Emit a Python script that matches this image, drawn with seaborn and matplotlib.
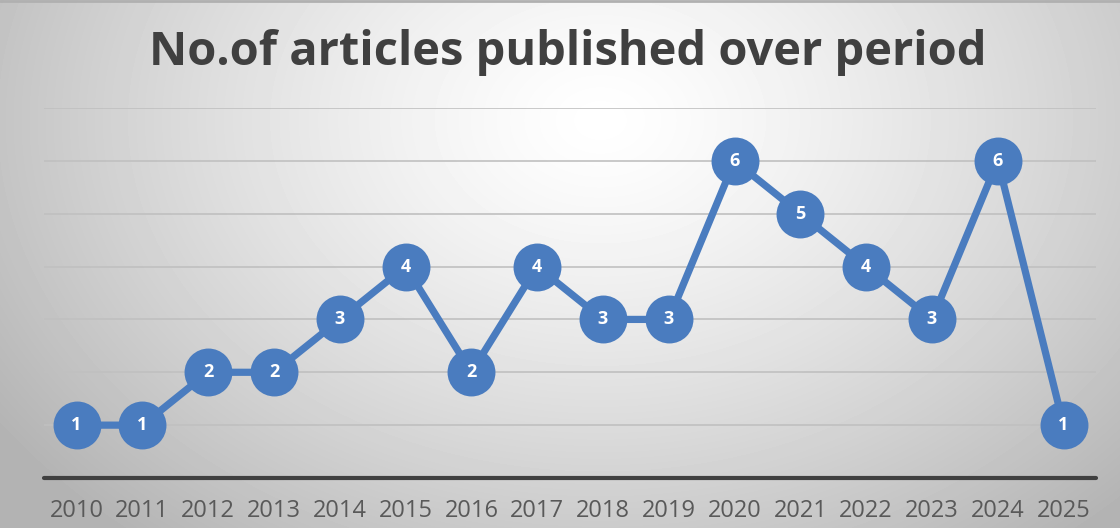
import numpy as np
import matplotlib
matplotlib.use("Agg")
import matplotlib.pyplot as plt
import seaborn as sns
import pandas as pd

years = ["2010", "2011", "2012", "2013", "2014", "2015", "2016", "2017",
         "2018", "2019", "2020", "2021", "2022", "2023", "2024", "2025"]
articles = [1, 1, 2, 2, 3, 4, 2, 4, 3, 3, 6, 5, 4, 3, 6, 1]
title = "No.of articles published over period"

sns.set_theme(style="white")
plt.rcParams['font.family'] = ['Open Sans', 'DejaVu Sans']

fig = plt.figure(figsize=(11.2, 5.28), dpi=100)

# background radial gradient
bg = fig.add_axes([0, 0, 1, 1], zorder=0)
yy, xx = np.mgrid[0:528, 0:1120]
d = np.sqrt(((xx - 600) / 700.0) ** 2 + ((yy - 120) / 520.0) ** 2)
val = np.clip(1.0 - 0.28 * d ** 1.3, 0.70, 1.0)
bg.imshow(val, cmap="gray", vmin=0, vmax=1, aspect="auto", interpolation="bilinear")
bg.axis("off")
bg.axhline(0, color="#b0b0b0", lw=2)

ax = fig.add_axes([0.039, 0.0947, 0.94, 0.7008], zorder=1)
ax.patch.set_alpha(0)

df = pd.DataFrame({"pos": np.arange(len(years)), "year": years, "n": articles})
color = "#4a7cbf"
sns.lineplot(data=df, x="pos", y="n", ax=ax, color=color, lw=5.2, marker="o",
             markersize=34.5, markeredgewidth=0, zorder=3)
for p, v in zip(df["pos"], df["n"]):
    ax.text(p, v, str(v), ha="center", va="center", color="white",
            fontsize=13, fontweight="bold", zorder=4)

ax.set_xlim(-0.5, len(years) - 0.5)
ax.set_ylim(0, 7)
for y in range(1, 8):
    ax.axhline(y, color="#c0c0c0", lw=1.2, zorder=1)
ax.axhline(0, color="#404040", lw=3, zorder=2, clip_on=False)
ax.set_yticks([])
ax.set_xticks(df["pos"])
ax.set_xticklabels(years, fontsize=17, color="#595959")
ax.tick_params(axis="x", length=0, pad=15)
ax.set_xlabel("")
ax.set_ylabel("")
for s in ax.spines.values():
    s.set_visible(False)

fig.text(0.507, 0.9, title, ha="center", va="center", fontsize=33.8,
         fontweight="bold", color="#404040")

fig.savefig("out.png", dpi=100)
